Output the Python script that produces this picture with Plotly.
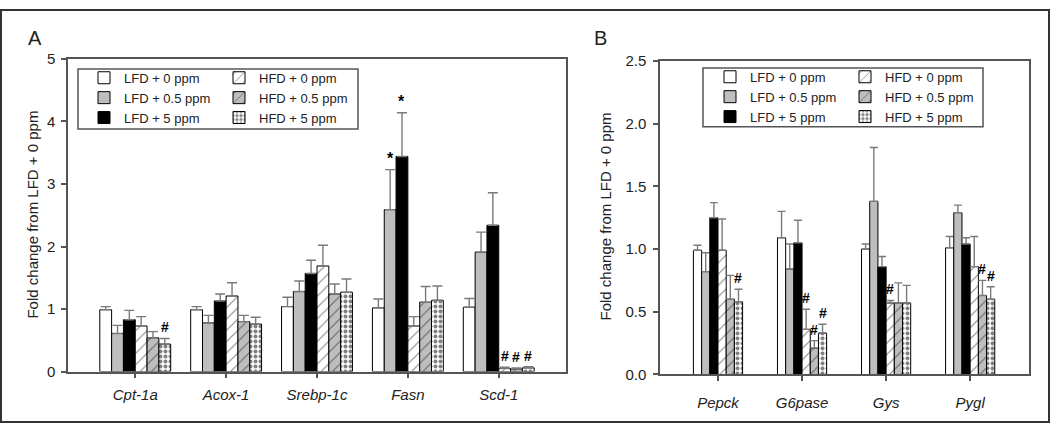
import plotly.graph_objects as go

# ---------------- data ----------------
genes_a = ["Cpt-1a", "Acox-1", "Srebp-1c", "Fasn", "Scd-1"]
genes_b = ["Pepck", "G6pase", "Gys", "Pygl"]
groups = ["LFD + 0 ppm", "LFD + 0.5 ppm", "LFD + 5 ppm",
          "HFD + 0 ppm", "HFD + 0.5 ppm", "HFD + 5 ppm"]

# Panel A: fold change (mean) and upper error (SEM)
a_lfd0 = [0.99, 0.99, 1.04, 1.02, 1.03]
a_lfd0_err = [0.05, 0.05, 0.15, 0.14, 0.14]
a_lfd05 = [0.61, 0.78, 1.28, 2.59, 1.91]
a_lfd05_err = [0.13, 0.12, 0.17, 0.64, 0.32]
a_lfd5 = [0.83, 1.13, 1.57, 3.44, 2.34]
a_lfd5_err = [0.15, 0.11, 0.21, 0.70, 0.52]
a_hfd0 = [0.73, 1.21, 1.69, 0.73, 0.05]
a_hfd0_err = [0.15, 0.21, 0.33, 0.15, 0.02]
a_hfd05 = [0.54, 0.80, 1.24, 1.11, 0.04]
a_hfd05_err = [0.10, 0.10, 0.16, 0.25, 0.02]
a_hfd5 = [0.44, 0.76, 1.27, 1.14, 0.06]
a_hfd5_err = [0.09, 0.11, 0.21, 0.23, 0.02]

# Panel B
b_lfd0 = [0.99, 1.09, 1.00, 1.01]
b_lfd0_err = [0.04, 0.21, 0.04, 0.09]
b_lfd05 = [0.82, 0.84, 1.38, 1.29]
b_lfd05_err = [0.15, 0.20, 0.43, 0.06]
b_lfd5 = [1.25, 1.05, 0.86, 1.04]
b_lfd5_err = [0.12, 0.18, 0.08, 0.05]
b_hfd0 = [0.99, 0.36, 0.57, 0.86]
b_hfd0_err = [0.25, 0.16, 0.02, 0.24]
b_hfd05 = [0.60, 0.21, 0.57, 0.63]
b_hfd05_err = [0.19, 0.06, 0.16, 0.12]
b_hfd5 = [0.58, 0.33, 0.57, 0.60]
b_hfd5_err = [0.10, 0.07, 0.14, 0.10]

# significance markers: (gene, group, symbol)
sig_a = [("Cpt-1a", "HFD + 5 ppm", "#"),
         ("Fasn", "LFD + 0.5 ppm", "*"),
         ("Fasn", "LFD + 5 ppm", "*"),
         ("Scd-1", "HFD + 0 ppm", "#"),
         ("Scd-1", "HFD + 0.5 ppm", "#"),
         ("Scd-1", "HFD + 5 ppm", "#")]
sig_b = [("Pepck", "HFD + 5 ppm", "#"),
         ("G6pase", "HFD + 0 ppm", "#"),
         ("G6pase", "HFD + 0.5 ppm", "#"),
         ("G6pase", "HFD + 5 ppm", "#"),
         ("Gys", "HFD + 0 ppm", "#"),
         ("Pygl", "HFD + 0.5 ppm", "#"),
         ("Pygl", "HFD + 5 ppm", "#")]

vals_a = [a_lfd0, a_lfd05, a_lfd5, a_hfd0, a_hfd05, a_hfd5]
errs_a = [a_lfd0_err, a_lfd05_err, a_lfd5_err, a_hfd0_err, a_hfd05_err, a_hfd5_err]
vals_b = [b_lfd0, b_lfd05, b_lfd5, b_hfd0, b_hfd05, b_hfd5]
errs_b = [b_lfd0_err, b_lfd05_err, b_lfd5_err, b_hfd0_err, b_hfd05_err, b_hfd5_err]

# ---------------- styles ----------------
GRAY = "#bebebe"
styles = [
    dict(color="white", pattern=dict(shape="")),
    dict(color=GRAY, pattern=dict(shape="")),
    dict(color="black", pattern=dict(shape="")),
    dict(color="white", pattern=dict(shape="/", fgcolor="black", bgcolor="white", size=8, solidity=0.12)),
    dict(color=GRAY, pattern=dict(shape="/", fgcolor="black", bgcolor=GRAY, size=8, solidity=0.12)),
    dict(color="white", pattern=dict(shape=".", fgcolor="black", bgcolor="white", size=5, solidity=0.5)),
]
FONT = "Arial, Liberation Sans, sans-serif"
TXT = "#222222"
AXC = "#555555"
W, H = 1050, 431

panels = [
    dict(genes=genes_a, vals=vals_a, errs=errs_a, sig=sig_a, group_w=0.78,
         xa="x", ya="y", legends=("legend", "legend2"), capw=5),
    dict(genes=genes_b, vals=vals_b, errs=errs_b, sig=sig_b, group_w=0.585,
         xa="x2", ya="y2", legends=("legend3", "legend4"), capw=4),
]

fig = go.Figure()
annotations = []
for p_i, p in enumerate(panels):
    n = len(groups)
    slot = p["group_w"] / n
    for g_i, gname in enumerate(groups):
        st = styles[g_i]
        offset = -p["group_w"] / 2 + g_i * slot
        fig.add_trace(go.Bar(
            x=p["genes"], y=p["vals"][g_i], name=gname,
            xaxis=p["xa"], yaxis=p["ya"],
            width=slot, offset=offset,
            marker=dict(color=st["color"], pattern=st["pattern"],
                        line=dict(color="black", width=1)),
            error_y=dict(type="data", array=p["errs"][g_i],
                         arrayminus=[0] * len(p["genes"]), symmetric=False,
                         color="#7a7a7a", thickness=1.4, width=p["capw"]),
            legend=p["legends"][0] if g_i < 3 else p["legends"][1],
            showlegend=True,
        ))
    for gene, gname, sym in p["sig"]:
        ci = p["genes"].index(gene)
        gi = groups.index(gname)
        top = p["vals"][gi][ci] + p["errs"][gi][ci]
        xpos = ci - p["group_w"] / 2 + (gi + 0.5) * slot
        annotations.append(dict(
            x=xpos, y=top, xref=p["xa"], yref=p["ya"], text="<b>" + sym + "</b>",
            showarrow=False, yanchor="bottom", xanchor="center", yshift=1,
            font=dict(family=FONT, size=16 if sym == "*" else 14, color="black"),
        ))

# panel letters and y titles
annotations += [
    dict(x=35 / W, y=1 - 30 / H, xref="paper", yref="paper", text="A", showarrow=False,
         xanchor="center", yanchor="middle", font=dict(family=FONT, size=20, color=TXT)),
    dict(x=600 / W, y=1 - 30 / H, xref="paper", yref="paper", text="B", showarrow=False,
         xanchor="center", yanchor="middle", font=dict(family=FONT, size=20, color=TXT)),
    dict(x=33 / W, y=1 - 214 / H, xref="paper", yref="paper", text="Fold change from LFD + 0 ppm",
         textangle=-90, showarrow=False, xanchor="center", yanchor="middle",
         font=dict(family=FONT, size=15, color=TXT)),
    dict(x=605 / W, y=1 - 216 / H, xref="paper", yref="paper", text="Fold change from LFD + 0 ppm",
         textangle=-90, showarrow=False, xanchor="center", yanchor="middle",
         font=dict(family=FONT, size=15, color=TXT)),
]

axis_common = dict(showline=True, mirror=True, linecolor=AXC, linewidth=1.5,
                   ticks="outside", ticklen=5, tickcolor=AXC, tickwidth=1.5,
                   showgrid=False, zeroline=False,
                   tickfont=dict(family=FONT, size=15, color=TXT))
xfont = dict(family=FONT, size=15, color=TXT, style="italic")

fig.update_layout(
    width=W, height=H, margin=dict(l=0, r=0, t=0, b=0),
    paper_bgcolor="white", plot_bgcolor="white",
    barmode="overlay",
    font=dict(family=FONT, color=TXT),
    annotations=annotations,
    xaxis=dict(domain=[68 / W, 566 / W], range=[-0.74, 4.74], anchor="y", type="category",
               ticklabelstandoff=4, **{**axis_common, "tickfont": xfont}),
    yaxis=dict(domain=[1 - 377.5 / H, 1 - 52 / H], range=[0, 5], anchor="x",
               tickvals=[0, 1, 2, 3, 4, 5], ticklabelstandoff=3, **axis_common),
    xaxis2=dict(domain=[660 / W, 1029 / W], range=[-0.69, 3.70], anchor="y2", type="category",
                ticklabelstandoff=9, **{**axis_common, "tickfont": xfont}),
    yaxis2=dict(domain=[1 - 380.5 / H, 1 - 54 / H], range=[0, 2.5], anchor="x2",
                tickvals=[0, 0.5, 1, 1.5, 2, 2.5], tickformat=".1f", ticklabelstandoff=4,
                **axis_common),
    shapes=[
        dict(type="rect", xref="paper", yref="paper", x0=1 / W, x1=1 - 1 / W, y0=1 / H, y1=1 - 1 / H,
             line=dict(color="#333333", width=2)),
        dict(type="rect", xref="paper", yref="paper", x0=78 / W, x1=358 / W,
             y0=1 - 125 / H, y1=1 - 62.5 / H, line=dict(color=AXC, width=1.5)),
        dict(type="rect", xref="paper", yref="paper", x0=703 / W, x1=983 / W,
             y0=1 - 122.5 / H, y1=1 - 61.5 / H, line=dict(color=AXC, width=1.5)),
    ],
)

leg_common = dict(bgcolor="rgba(0,0,0,0)", borderwidth=0, xanchor="left", yanchor="top",
                  font=dict(family=FONT, size=13, color=TXT), orientation="v",
                  tracegroupgap=0)
fig.update_layout(
    legend=dict(x=84 / W, y=1 - 56 / H, **leg_common),
    legend2=dict(x=219 / W, y=1 - 56 / H, **leg_common),
    legend3=dict(x=710 / W, y=1 - 55 / H, **leg_common),
    legend4=dict(x=845 / W, y=1 - 55 / H, **leg_common),
)

fig.write_html(
    "out.html",
    config={"displayModeBar": False},
    post_script="document.body.style.margin='0';document.body.style.overflow='hidden';",
)
